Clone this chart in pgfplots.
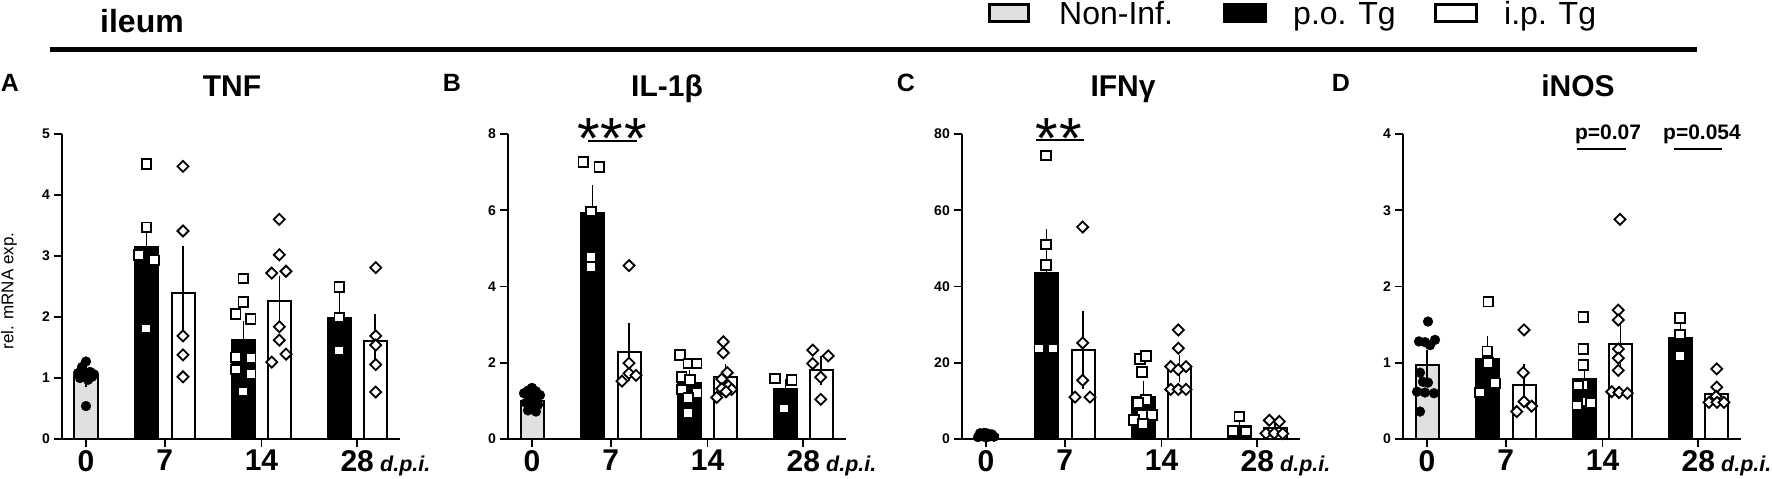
\documentclass[border=0pt]{standalone}
\usepackage{fontspec}
\setmainfont{Liberation Sans}
\usepackage{pgfplots}
\pgfplotsset{compat=1.18}
\definecolor{nongray}{gray}{0.88}
\newcommand{\fs}[1]{\fontsize{#1}{#1}\selectfont}
\pgfplotsset{
 panel/.style={scale only axis, width=338pt, height=305pt, xmin=0, xmax=338, ymin=0,
   axis x line=bottom, axis y line=left, axis line style={-, line width=1.8pt},
   tick align=outside, major tick length=8pt, tick style={line width=1.6pt, black},
   xtick={24,102.75,199.5,295.25}, xticklabels={0,7,14,28},
   xticklabel style={font=\fs{30}\bfseries, inner sep=0pt, yshift=-3pt},
   yticklabel style={font=\fs{14}\bfseries, inner sep=0pt, xshift=-4pt},
   clip=false},
 bars/.style={ybar, bar shift=0pt, bar width=23pt, draw=black, line width=2pt,
   error bars/y dir=both, error bars/y explicit,
   error bars/error bar style={line width=1.2pt, black},
   error bars/error mark options={line width=1.2pt, mark size=6pt, black}},
 ptsN/.style={only marks, mark=*, mark size=4.9pt, mark options={fill=black, draw=black, line width=0.4pt}},
 ptsP/.style={only marks, mark=square*, mark size=4.8pt, mark options={fill=white, draw=black, line width=1.9pt}},
 ptsI/.style={only marks, mark=square*, mark size=3.9pt, mark options={rotate=45, fill=white, draw=black, line width=1.8pt}},
}
\begin{document}
\begin{tikzpicture}[x=1pt,y=1pt]
\path[use as bounding box] (0,0) rectangle (1772,479);
% header
\node[anchor=base west, inner sep=0pt, font=\fs{32}\bfseries] at (100,446) {ileum};
\draw[line width=5pt] (50,429) -- (1697,429);
\draw[line width=3pt, fill=nongray] (989,457) rectangle (1028,474);
\node[anchor=base west, inner sep=0pt, font=\fs{32}] at (1059,454) {Non-Inf.};
\draw[line width=3pt, fill=black] (1224,457) rectangle (1265,474);
\node[anchor=base west, inner sep=0pt, font=\fs{32}] at (1293,454) {p.o. Tg};
\draw[line width=3pt, fill=white] (1435,457) rectangle (1476,474);
\node[anchor=base west, inner sep=0pt, font=\fs{32}] at (1504,454) {i.p. Tg};
% panel letters and titles
\node[anchor=base, inner sep=0pt, font=\fs{25}\bfseries] at (10,387) {A};
\node[anchor=base, inner sep=0pt, font=\fs{25}\bfseries] at (452,387) {B};
\node[anchor=base, inner sep=0pt, font=\fs{25}\bfseries] at (906,387) {C};
\node[anchor=base, inner sep=0pt, font=\fs{25}\bfseries] at (1341,387) {D};
\node[anchor=base, inner sep=0pt, font=\fs{30}\bfseries] at (232,382) {TNF};
\node[anchor=base, inner sep=0pt, font=\fs{30}\bfseries] at (667,382) {IL-1β};
\node[anchor=base, inner sep=0pt, font=\fs{30}\bfseries] at (1123,382) {IFNγ};
\node[anchor=base, inner sep=0pt, font=\fs{30}\bfseries] at (1578,382) {iNOS};
\node[rotate=90, inner sep=0pt, font=\fs{17}] at (9,188) {rel. mRNA exp.};
% d.p.i.
\foreach \xo in {62,508,962,1403}{
  \node[anchor=base west, inner sep=0pt, font=\fs{21.5}\bfseries\itshape] at (\xo+318,7) {d.p.i.};
}

% ---------------- A: TNF
\begin{axis}[panel, at={(62pt,40pt)}, anchor=south west, ymax=5, ytick={0,1,2,3,4,5}, yticklabels={0,1,2,3,4,5}]
\addplot[bars, fill=nongray] coordinates {(24,1.03) +- (0,0.08)};
\addplot[bars, fill=black] coordinates {(84.5,3.15) +- (0,0.26) (181.5,1.62) +- (0,0.22) (277.5,1.98) +- (0,0.32)};
\addplot[bars, fill=white] coordinates {(121,2.39) +- (0,0.68) (217.5,2.27) +- (0,0.31) (313,1.60) +- (0,0.35)};
\addplot[ptsN] table {
x y
24 1.27
20 1.18
16 1.08
22 1.05
28 1.10
32 1.06
18 1.00
26 0.97
30 1.02
24 0.54
};
\addplot[ptsP] table {
x y
84.5 4.51
84.5 3.47
77 3.02
92 2.93
84 1.81
181.3 2.63
181.3 2.25
173.7 2.05
188.7 1.97
173.7 1.34
188.7 1.33
173.7 1.14
188.7 1.07
181.3 0.78
277.3 2.49
277.3 1.99
277.3 1.45
};
\addplot[ptsI] table {
x y
121 4.47
121 3.41
121 1.69
121 1.38
121 1.02
217.3 3.60
217.3 3.02
209.7 2.72
224 2.75
217.3 1.84
217.3 1.62
224 1.39
209.7 1.26
313.7 2.81
313.7 1.69
313.7 1.54
313.7 1.22
313.7 0.77
};
\end{axis}

% ---------------- B: IL-1beta
\begin{axis}[panel, at={(508pt,40pt)}, anchor=south west, ymax=8, ytick={0,2,4,6,8}, yticklabels={0,2,4,6,8}]
\addplot[bars, fill=nongray] coordinates {(24,1.0) +- (0,0.06)};
\addplot[bars, fill=black] coordinates {(84.5,5.93) +- (0,0.58) (181.5,1.48) +- (0,0.17) (277.5,1.30) +- (0,0.12)};
\addplot[bars, fill=white] coordinates {(121,2.28) +- (0,0.60) (217.5,1.62) +- (0,0.18) (313,1.80) +- (0,0.23)};
\addplot[ptsN] table {
x y
24 1.34
20 1.27
28 1.25
16 1.20
32 1.15
22 1.10
26 1.05
18 0.95
30 0.90
24 0.82
20 0.75
28 0.72
};
\addplot[ptsP] table {
x y
75.3 7.26
91.3 7.13
83 5.97
83 4.77
83 4.51
172 2.20
180.3 1.98
188.7 1.98
173.7 1.63
182 1.55
173.7 1.30
188.7 1.20
180.3 1.07
180.3 0.69
267 1.59
283.7 1.55
276 0.80
};
\addplot[ptsI] table {
x y
121 4.55
121 1.99
114 1.52
121 1.72
128 1.67
215.3 2.55
215.3 2.26
219.3 1.74
213.7 1.57
220.3 1.39
223.7 1.30
213.7 1.32
218 1.24
208.7 1.09
304.7 2.33
320.3 2.18
304.7 1.98
312.7 1.62
312.7 1.04
};
\end{axis}

% ---------------- C: IFNgamma
\begin{axis}[panel, at={(962pt,40pt)}, anchor=south west, ymax=80, ytick={0,20,40,60,80}, yticklabels={0,20,40,60,80}]
\addplot[bars, fill=nongray] coordinates {(24,1.0) +- (0,0.2)};
\addplot[bars, fill=black] coordinates {(84.5,43.6) +- (0,9.8) (181.5,11.1) +- (0,2.5) (277.5,3.3) +- (0,1.3)};
\addplot[bars, fill=white] coordinates {(121,23.4) +- (0,8.7) (217.5,18.4) +- (0,2.0) (313,2.8) +- (0,0.8)};
\addplot[ptsN] table {
x y
18 1.5
22 1.6
26 1.4
30 1.2
20 0.8
24 0.9
28 0.7
32 0.6
16 0.5
24 0.4
};
\addplot[ptsP] table {
x y
84 74.4
84 51.0
84 45.7
77.3 23.7
91.3 23.7
178 21.0
184 21.8
180 17.6
184 10.3
176 9.5
180 6.3
190 6.3
172 5.0
181 4.0
277.3 5.9
270.7 2.1
284 2.0
};
\addplot[ptsI] table {
x y
120.7 55.6
120.7 25.2
120.7 15.4
113 11.0
128 11.0
216.3 28.6
216.3 23.8
208.7 19.0
224 19.0
216.3 18.2
208.7 13.0
216.3 13.0
224 13.0
307.3 4.9
317.3 4.6
304 1.5
312.3 1.5
320.7 1.4
};
\end{axis}

% ---------------- D: iNOS
\begin{axis}[panel, at={(1403pt,40pt)}, anchor=south west, ymax=4, ytick={0,1,2,3,4}, yticklabels={0,1,2,3,4}]
\addplot[bars, fill=nongray] coordinates {(24,0.97) +- (0,0.12)};
\addplot[bars, fill=black] coordinates {(84.5,1.05) +- (0,0.22) (181.5,0.79) +- (0,0.12) (277.5,1.33) +- (0,0.10)};
\addplot[bars, fill=white] coordinates {(121,0.71) +- (0,0.19) (217.5,1.24) +- (0,0.29) (313,0.59) +- (0,0.07)};
\addplot[ptsN] table {
x y
25 1.54
16 1.28
22 1.27
27 1.23
32 1.30
17 0.87
25 0.74
14 0.62
22 0.61
31 0.60
20 0.75
17 0.36
};
\addplot[ptsP] table {
x y
85.3 1.80
84.3 1.15
85 1.00
92 0.73
77 0.61
180.3 1.60
180.3 1.18
180.3 0.97
180.3 0.71
175 0.70
183.7 0.49
174.3 0.44
187.7 0.47
277 1.59
277 1.37
277 1.09
};
\addplot[ptsI] table {
x y
121 1.43
120.3 0.87
121 0.49
128.7 0.43
113.7 0.36
217 2.88
215.3 1.69
215.3 1.56
215.3 1.18
215.3 1.06
215.3 0.90
208.7 0.62
216 0.61
224.3 0.60
313.7 0.92
313.7 0.68
313 0.56
306 0.48
314 0.48
321 0.48
};
\end{axis}

% significance annotations
\draw[line width=1.8pt] (588,338.3) -- (637,338.3);
\node[anchor=base, inner sep=0pt, font=\fs{58}] at (612,320) {*\kern1pt*\kern1pt*};
\draw[line width=1.8pt] (1036,339) -- (1084,339);
\node[anchor=base, inner sep=0pt, font=\fs{58}] at (1059,320) {*\kern1pt*};
\draw[line width=1.8pt] (1577,330) -- (1626,330);
\draw[line width=1.8pt] (1674,330) -- (1722,330);
\node[anchor=base, inner sep=0pt, font=\fs{21}\bfseries] at (1608,339.7) {p=0.07};
\node[anchor=base, inner sep=0pt, font=\fs{21}\bfseries] at (1702,339.7) {p=0.054};
\end{tikzpicture}
\end{document}
